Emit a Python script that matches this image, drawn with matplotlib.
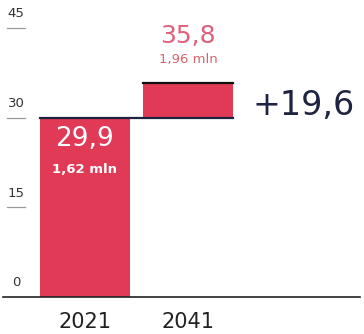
import matplotlib
matplotlib.use("Agg")
import matplotlib.pyplot as plt
import matplotlib.transforms as mtransforms

plt.rcParams['font.family'] = ['DejaVu Sans']

# data
years = ["2021", "2041"]
values = [29.9, 35.8]
people = ["1,62 mln", "1,96 mln"]
change_label = "+19,6"
y_ticks = [0, 15, 30, 45]

red = "#e03a57"
navy = "#1e2340"

fig = plt.figure(figsize=(3.64, 3.34), dpi=100)
ax = fig.add_axes([0, 0.1108, 1, 0.805])
ax.set_xlim(-0.825, 2.709)
ax.set_ylim(0, 45)
width = 0.874

# 2021 bar: full height
ax.bar(0, values[0], width=width, color=red, zorder=2)
# 2041 bar: only the increase above the 2021 level
ax.bar(1, values[1] - values[0], bottom=values[0], width=width, color=red, zorder=2)

# level of 2021 across both bars, and top of 2041
ax.plot([-width / 2, 1 + width / 2], [values[0], values[0]], color=navy, lw=1.6, zorder=3)
ax.plot([1 - width / 2, 1 + width / 2], [values[1], values[1]], color="#111111", lw=1.6, zorder=3)

# value labels
ax.text(0, values[0] - 3.5, "29,9", color="white", fontsize=19, ha="center", va="center", zorder=4)
ax.text(0, values[0] - 8.5, people[0], color="white", fontsize=9.5, fontweight="bold",
        ha="center", va="center", zorder=4)
ax.text(1, values[1] + 7.8, "35,8", color="#e0607a", fontsize=18, ha="center", va="center")
ax.text(1, values[1] + 3.9, people[1], color="#d9646a", fontsize=9.5, ha="center", va="center")
ax.text(2.12, 32.0, change_label, color=navy, fontsize=24, ha="center", va="center")

# y ticks drawn as short lines with the label above
trans = mtransforms.blended_transform_factory(ax.transAxes, ax.transData)
for t in y_ticks:
    if t > 0:
        ax.plot([0.019, 0.069], [t, t], color="#999999", lw=0.9, transform=trans, clip_on=False)
    ax.text(0.044, t + 2.4, str(t), fontsize=9.5, color="#333333", ha="center", va="center",
            transform=trans)

# baseline
ax.plot([0.008, 0.99], [0, 0], color="#222222", lw=1.2, transform=trans, clip_on=False, zorder=5)

ax.set_xticks([0, 1], years)
ax.tick_params(axis="x", length=0, labelsize=15, pad=11, labelcolor="#222222")
ax.set_yticks([])
for s in ax.spines.values():
    s.set_visible(False)

fig.savefig("out.png", dpi=100)
